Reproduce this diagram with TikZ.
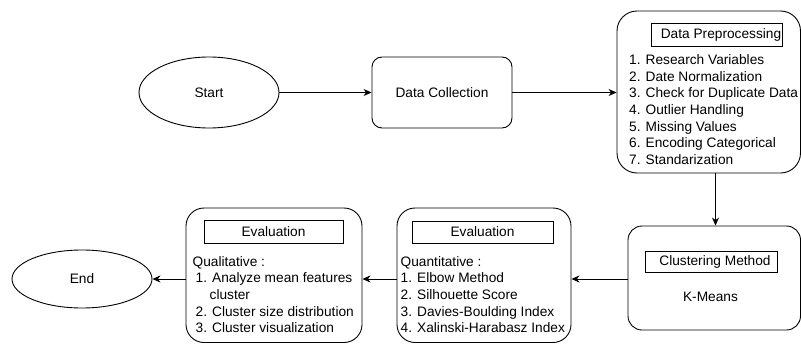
\documentclass[tikz,border=0pt]{standalone}
\usepackage{fontspec}
\setmainfont{Liberation Sans}
\usetikzlibrary{shapes.geometric,arrows.meta}
\newcommand\diafont{\fontsize{13.7}{16.6}\selectfont}
\begin{document}
\begin{tikzpicture}[x=1pt,y=-1pt,
  every node/.style={font=\diafont, text=black},
  oval/.style={draw, ellipse, line width=0.9pt, inner sep=0pt},
  container/.style={draw, line width=0.9pt, inner sep=0pt},
  titlebox/.style={draw, line width=0.8pt, inner sep=0pt},
  body/.style={align=left, anchor=north west, inner sep=0pt},
  arr/.style={line width=0.9pt, -{Stealth[length=8pt,width=7pt,inset=2.5pt]}}
]
\useasboundingbox (0,0) rectangle (801,343);

% top row
\node[oval, minimum width=140pt, minimum height=71pt] (start) at (209,92.5) {Start};
\node[container, rounded corners=10pt, minimum width=140pt, minimum height=71pt] (dc) at (442,92.5) {Data Collection};

\node[container, rounded corners=20pt, minimum width=183.5pt, minimum height=162pt] (prep) at (708.75,92) {};
\node[titlebox, minimum width=130.5pt, minimum height=23pt] (preptitle) at (717,34.5) {\hspace*{8pt}Data Preprocessing};
\node[body] (prepbody) at (629,54.5) {1. Research Variables\\2. Date Normalization\\3. Check for Duplicate Data\\4. Outlier Handling\\5. Missing Values\\6. Encoding Categorical\\7. Standarization};

% bottom row
\node[container, rounded corners=14pt, minimum width=172.5pt, minimum height=104pt] (clu) at (714.25,278) {};
\node[titlebox, minimum width=131.5pt, minimum height=21.5pt] (clutitle) at (711.5,261.7) {\hspace*{7pt}Clustering Method};
\node (kmeans) at (710.5,297.3) {K-Means};

\node[container, rounded corners=18pt, minimum width=174pt, minimum height=134.5pt] (quant) at (484,275.25) {};
\node[titlebox, minimum width=141pt, minimum height=22pt] (quanttitle) at (482.5,232) {Evaluation};
\node[body] (quantbody) at (400.5,256.2) {Quantitative :\\1. Elbow Method\\2. Silhouette Score\\3. Davies-Boulding Index\\4. Xalinski-Harabasz Index};

\node[container, rounded corners=18pt, minimum width=176pt, minimum height=134.5pt] (qual) at (274,275.25) {};
\node[titlebox, minimum width=139pt, minimum height=23pt] (qualtitle) at (273.5,231.5) {Evaluation};
\node[body] (qualbody) at (192.5,256.2) {Qualitative :\\\hspace*{3pt}1. Analyze mean features\\\hspace*{17pt}cluster\\\hspace*{3pt}2. Cluster size distribution\\\hspace*{3pt}3. Cluster visualization};

\node[oval, minimum width=140pt, minimum height=58pt] (end) at (82,279) {End};

% connectors
\coordinate (vx) at (715.5,0);
\coordinate (hy) at (0,279);
\draw[arr] (start) -- (dc);
\draw[arr] (dc.east) -- (dc.east -| prep.west);
\draw[arr] (prep.south -| vx) -- (clu.north -| vx);
\draw[arr] (clu.west |- hy) -- (quant.east |- hy);
\draw[arr] (quant.west |- hy) -- (qual.east |- hy);
\draw[arr] (qual.west |- hy) -- (end.east);
\end{tikzpicture}
\end{document}
